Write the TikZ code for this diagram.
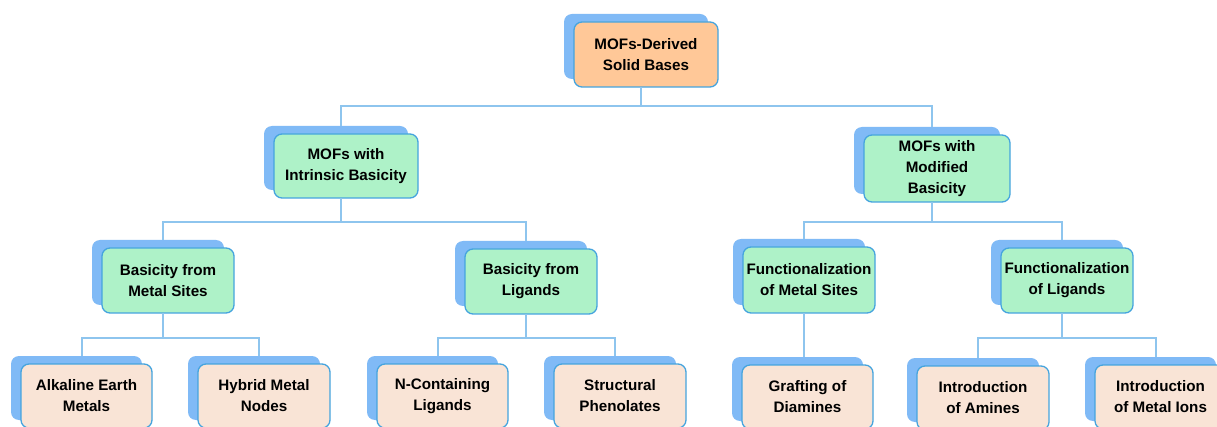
\documentclass[tikz,border=0pt]{standalone}
\usepackage{fontspec}
\setmainfont{Liberation Sans}
\definecolor{shadowc}{HTML}{80BAF6}
\definecolor{borderc}{HTML}{45A4DE}
\definecolor{connc}{HTML}{8EC5EE}
\definecolor{orangec}{HTML}{FFC898}
\definecolor{greenc}{HTML}{AEF2C8}
\definecolor{peachc}{HTML}{F9E4D6}
\tikzset{
  shadowbox/.style={rectangle, rounded corners=8pt, fill=shadowc, draw=none, inner sep=0pt},
  frontbox/.style={rectangle, rounded corners=8pt, draw=borderc, line width=1.3pt, align=center,
    inner sep=1pt, font=\fontsize{15.2}{21}\selectfont\bfseries},
  conn/.style={draw=connc, line width=2pt}
}
\newcommand\obox[7]{%
  \node[shadowbox, minimum width=#4pt, minimum height=#5pt] (#1-s) at ({#2-10+#4/2},{#3-8+#5/2}) {};
  \node[frontbox, fill=#6, minimum width=#4pt, minimum height=#5pt] (#1) at ({#2+#4/2},{#3+#5/2}) {#7};
  \coordinate (#1-t) at ({#2+#4/2-5},{#3-8});
  \coordinate (#1-b) at ({#2+#4/2-5},{#3+#5});
}
\begin{document}
\begin{tikzpicture}[x=1pt,y=-1pt]
\fill[white] (0,0) rectangle (1217,427);
\useasboundingbox (0,0) rectangle (1217,427);
\clip (0,0) rectangle (1217,427);
\coordinate (h1) at (0,106);
\coordinate (h2) at (0,222);
\coordinate (h3) at (0,338);
\obox{top}{574}{22}{144}{65}{orangec}{MOFs-Derived\\Solid Bases}
\obox{a}{274}{134}{144}{64}{greenc}{MOFs with\\Intrinsic Basicity}
\obox{b}{864}{135}{146}{67}{greenc}{MOFs with\\Modified\\Basicity}
\obox{a1}{102}{248}{132}{65}{greenc}{Basicity from\\Metal Sites}
\obox{a2}{465}{249}{132}{65}{greenc}{Basicity from\\Ligands}
\obox{b1}{743}{247}{132}{66}{greenc}{Functionalization\\of Metal Sites}
\obox{b2}{1001}{248}{132}{65}{greenc}{Functionalization\\of Ligands}
\obox{a1x}{21}{364}{131}{64}{peachc}{Alkaline Earth\\Metals}
\obox{a1y}{198}{364}{132}{64}{peachc}{Hybrid Metal\\Nodes}
\obox{a2x}{377}{364}{131}{64}{peachc}{N-Containing\\Ligands}
\obox{a2y}{554}{364}{132}{64}{peachc}{Structural\\Phenolates}
\obox{b1x}{742}{365}{131}{64}{peachc}{Grafting of\\Diamines}
\obox{b2x}{917}{366}{132}{64}{peachc}{Introduction\\of Amines}
\obox{b2y}{1095}{365}{131}{64}{peachc}{Introduction\\of Metal Ions}
% connectors
\draw[conn] (top-b) -- (top-b |- h1);
\draw[conn] (a-t) |- (b-t |- h1) -- (b-t);
\draw[conn] (a-b) -- (a-b |- h2);
\draw[conn] (a1-t) |- (a2-t |- h2) -- (a2-t);
\draw[conn] (b-b) -- (b-b |- h2);
\draw[conn] (b1-t) |- (b2-t |- h2) -- (b2-t);
\draw[conn] (a1-b) -- (a1-b |- h3);
\draw[conn] (a1x-t) |- (a1y-t |- h3) -- (a1y-t);
\draw[conn] (a2-b) -- (a2-b |- h3);
\draw[conn] (a2x-t) |- (a2y-t |- h3) -- (a2y-t);
\draw[conn] (b1-b) -- (b1-b |- b1x-t);
\draw[conn] (b2-b) -- (b2-b |- h3);
\draw[conn] (b2x-t) |- (b2y-t |- h3) -- (b2y-t);
\end{tikzpicture}
\end{document}
